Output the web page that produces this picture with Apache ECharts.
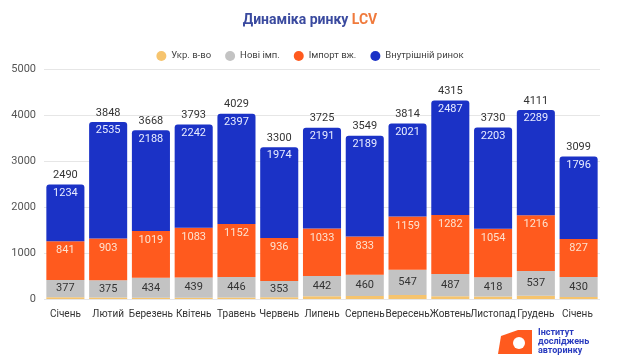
<!DOCTYPE html>
<html><head><meta charset="utf-8">
<script src="https://cdn.jsdelivr.net/npm/echarts@6/dist/echarts.min.js"></script>
<style>html,body{margin:0;padding:0;background:#fff}#c{width:620px;height:361px}</style>
</head><body><div id="c"></div>
<script>
const categories = ['Січень','Лютий','Березень','Квітень','Травень','Червень','Липень','Серпень','Вересень','Жовтень','Листопад','Грудень','Січень '];
const ukrProd = [38,35,27,29,34,37,59,67,87,59,55,69,46];
const newImport = [377,375,434,439,446,353,442,460,547,487,418,537,430];
const usedImport = [841,903,1019,1083,1152,936,1033,833,1159,1282,1054,1216,827];
const domestic = [1234,2535,2188,2242,2397,1974,2191,2189,2021,2487,2203,2289,1796];
const totals = [2490,3848,3668,3793,4029,3300,3725,3549,3814,4315,3730,4111,3099];
const yTicks = [0,1000,2000,3000,4000,5000];

const font = 'Roboto, "Noto Sans", sans-serif';
const chart = echarts.init(document.getElementById('c'));
chart.setOption({
  animation: false,
  textStyle: {fontFamily: font},
  title: {
    text: '{a|Динаміка ринку }{b|LCV}',
    left: 'center', top: 8,
    textStyle: {rich: {
      a: {fontSize: 14, fontWeight: 'bold', color: '#3a4a9f', fontFamily: font},
      b: {fontSize: 14, fontWeight: 'bold', color: '#f07a3c', fontFamily: font}
    }}
  },
  legend: {
    top: 46, left: 'center', icon: 'circle', itemWidth: 10, itemHeight: 10, itemGap: 14,
    textStyle: {fontSize: 9.5, color: '#444'},
    data: ['Укр. в-во','Нові імп.','Імпорт вж.','Внутрішній ринок']
  },
  grid: {left: 44, right: 20, top: 69, bottom: 62},
  xAxis: {
    type: 'category', data: categories,
    axisLine: {show: false}, axisTick: {show: false},
    axisLabel: {fontSize: 10, color: '#333', margin: 10, interval: 0}
  },
  yAxis: {
    type: 'value', min: yTicks[0], max: yTicks[yTicks.length-1], interval: 1000,
    axisLabel: {fontSize: 11, color: '#555', margin: 8, formatter: v => String(v)},
    splitLine: {lineStyle: {color: '#e6e6e6'}},
    axisLine: {show: false}, axisTick: {show: false}
  },
  series: [
    {name: 'Укр. в-во', type: 'bar', stack: 's', data: ukrProd, barCategoryGap: '11%',
     itemStyle: {color: '#f6c46e'}},
    {name: 'Нові імп.', type: 'bar', stack: 's', data: newImport,
     itemStyle: {color: '#c3c3c3'},
     label: {show: true, position: 'inside', fontSize: 11, color: '#333'}},
    {name: 'Імпорт вж.', type: 'bar', stack: 's', data: usedImport,
     itemStyle: {color: '#ff5a1e'},
     label: {show: true, position: 'insideTop', distance: 4, fontSize: 11, color: '#fde2cf'}},
    {name: 'Внутрішній ринок', type: 'bar', stack: 's', data: domestic,
     itemStyle: {color: '#1b32c6', borderRadius: [3,3,0,0]},
     label: {show: true, position: 'insideTop', distance: 3, fontSize: 11, color: '#e8ecff'}},
    {name: 'total', type: 'line', data: totals, symbol: 'circle', symbolSize: 1, showSymbol: true,
     itemStyle: {opacity: 0}, lineStyle: {opacity: 0},
     silent: true, z: 10,
     label: {show: true, position: 'top', distance: 3, fontSize: 11, color: '#333', opacity: 1}}
  ],
  graphic: [
    {type: 'polygon', left: 498, top: 330, shape: {points: [[0,24],[3,6],[20,0],[34,0],[34,24]]},
     style: {fill: '#ff5a1e'}},
    {type: 'circle', left: 513, top: 337, shape: {r: 6}, style: {fill: '#fff'}},
    {type: 'text', left: 538, top: 328, style: {text: 'Інститут\nдосліджень\nавторинку', fill: '#2a3cbf',
     font: 'bold 9px ' + font, lineHeight: 9}}
  ]
});
</script></body></html>
